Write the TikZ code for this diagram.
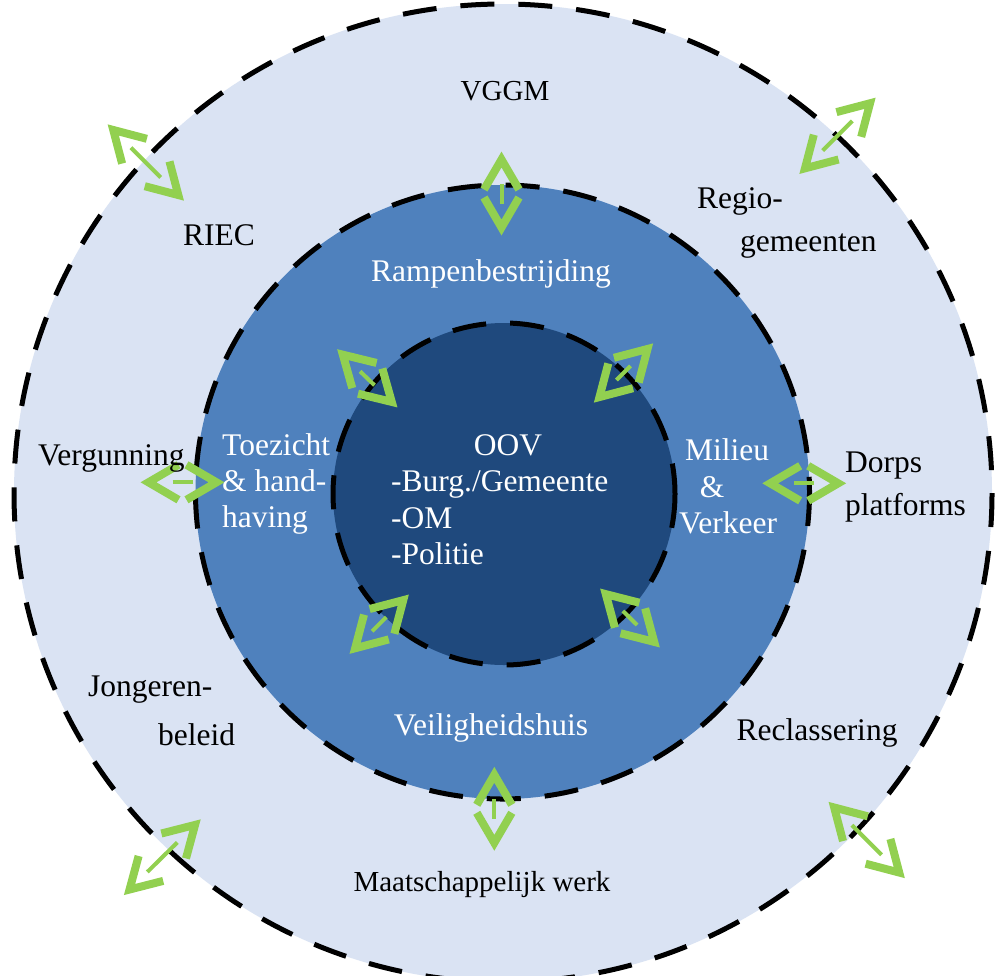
\documentclass[tikz,border=0pt]{standalone}
\usepackage{fontspec}
\setmainfont{Liberation Serif}
\definecolor{outerfill}{HTML}{DAE3F3}
\definecolor{midfill}{HTML}{4F81BD}
\definecolor{innerfill}{HTML}{1F497D}
\definecolor{arrowgreen}{HTML}{92D050}
\newcommand{\greenarrow}[4]{%
  \begin{scope}[shift={#1}, rotate=#2]
    \draw[chev] ({#3-30},17.5) -- (#3,0) -- ({#3-30},-17.5);
    \draw[chev] ({-#3+30},17.5) -- (-#3,0) -- ({-#3+30},-17.5);
    \draw[shaft] (-#4,0) -- (#4,0);
  \end{scope}}
\begin{document}
\begin{tikzpicture}[x=1pt,y=-1pt,
  ring/.style={line width=5pt, dash pattern=on 34pt off 24pt},
  chev/.style={draw=arrowgreen, line width=8pt, line join=miter, line cap=butt},
  shaft/.style={draw=arrowgreen, line width=4pt},
  lbl/.style={inner sep=0pt, font=\fontsize{31.5}{36}\selectfont, anchor=base},
  lblsmall/.style={inner sep=0pt, font=\fontsize{29}{34}\selectfont, anchor=base},
  lw/.style={lbl, anchor=base west}]
\useasboundingbox (0,0) rectangle (995,975);
\fill[white] (0,0) rectangle (995,975);
% circles
\filldraw[fill=outerfill, draw=black, ring] (503,493) circle[radius=489];
\filldraw[fill=midfill, draw=black, ring] (502.5,492) circle[radius=307];
\filldraw[fill=innerfill, draw=black, ring] (504,494) circle[radius=171];
% arrows
\greenarrow{(501.5,193.5)}{90}{34}{10}
\greenarrow{(494.3,808.8)}{90}{34}{10}
\greenarrow{(182.5,482.3)}{0}{34}{10}
\greenarrow{(804.2,483.3)}{0}{34}{10}
\greenarrow{(367.3,378.3)}{-44}{34}{10}
\greenarrow{(623.5,373)}{45}{34}{10}
\greenarrow{(379.2,624.2)}{45}{34}{10}
\greenarrow{(630,618)}{-44.6}{34}{10}
\greenarrow{(145.8,162.5)}{-45}{46}{21}
\greenarrow{(837.5,135.8)}{45}{46}{21}
\greenarrow{(162.3,857.2)}{44.6}{46}{21}
\greenarrow{(866.7,840)}{-45}{46}{21}
% labels outer ring
\node[lblsmall] (vggm) at (505,100) {VGGM};
\node[lw] (riec) at (183,245) {RIEC};
\node[lw] (regio1) at (697,208) {Regio-};
\node[lw] (regio2) at (740,251) {gemeenten};
\node[lw] (verg) at (38,465) {Vergunning};
\node[lw] (dorps1) at (845,472) {Dorps};
\node[lw] (dorps2) at (845,515) {platforms};
\node[lw] (jong1) at (88,696) {Jongeren-};
\node[lw] (jong2) at (158,745) {beleid};
\node[lbl] (recl) at (817,740) {Reclassering};
\node[lblsmall] (maat) at (482,891) {Maatschappelijk werk};
% labels middle ring
\node[lbl, text=white] (ramp) at (491,281) {Rampenbestrijding};
\node[lw, text=white] (toez1) at (222,455) {Toezicht};
\node[lw, text=white] (toez2) at (222,491) {\& hand-};
\node[lw, text=white] (toez3) at (222,527) {having};
\node[lbl, text=white] (mil1) at (727,460) {Milieu};
\node[lbl, text=white] (mil2) at (712,497) {\&};
\node[lbl, text=white] (mil3) at (728,533) {Verkeer};
\node[lbl, text=white] (veil) at (491,735) {Veiligheidshuis};
% labels inner circle
\node[lbl, text=white] (oov) at (508,455) {OOV};
\node[lw, text=white] (oov1) at (391,491) {-Burg./Gemeente};
\node[lw, text=white] (oov2) at (391,528) {-OM};
\node[lw, text=white] (oov3) at (391,564) {-Politie};
\end{tikzpicture}
\end{document}
